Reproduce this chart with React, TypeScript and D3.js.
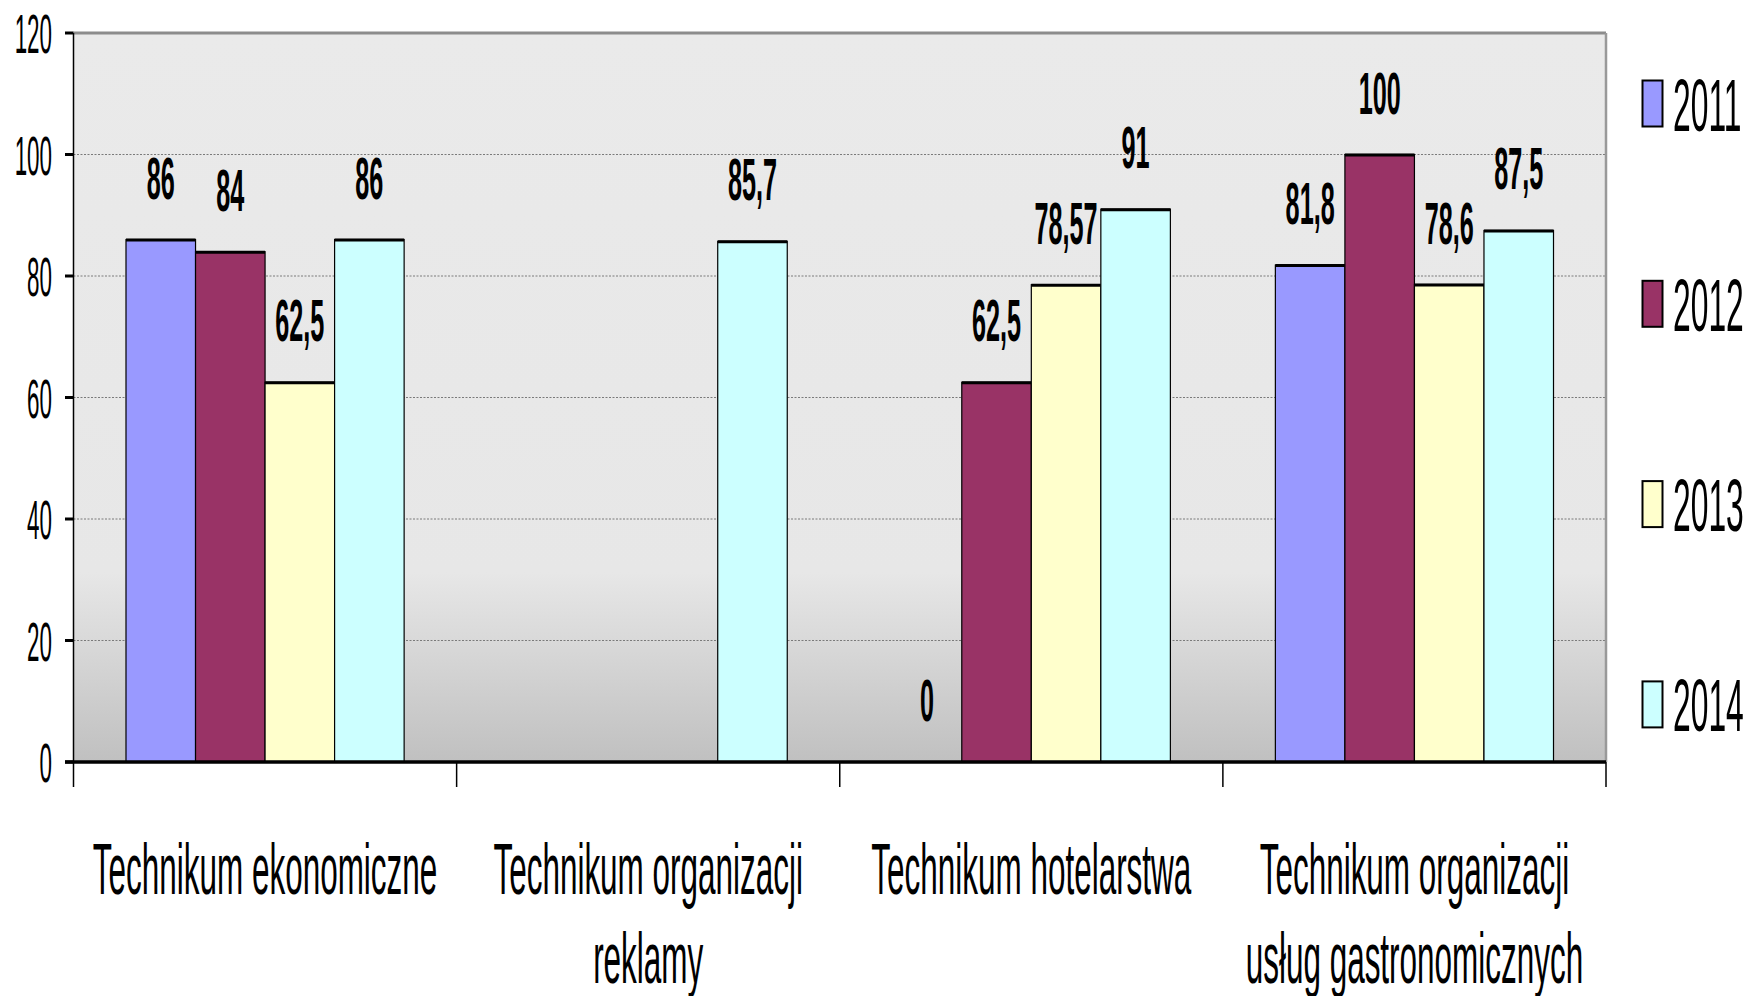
import React from "react";
import * as d3 from "d3";

const categories: string[][] = [
  ["Technikum ekonomiczne"],
  ["Technikum organizacji", "reklamy"],
  ["Technikum hotelarstwa"],
  ["Technikum organizacji", "usług gastronomicznych"],
];
const seriesNames = ["2011", "2012", "2013", "2014"];
const seriesColors = ["#9999ff", "#993366", "#ffffcc", "#ccffff"];
const v2011: (number | null)[] = [86, null, 0, 81.8];
const v2012: (number | null)[] = [84, null, 62.5, 100];
const v2013: (number | null)[] = [62.5, null, 78.57, 78.6];
const v2014: (number | null)[] = [86, 85.7, 91, 87.5];
const seriesValues = [v2011, v2012, v2013, v2014];
const yTicks = [0, 20, 40, 60, 80, 100, 120];

const W = 1752;
const H = 996;
const left = 73.5;
const right = 1606;
const top = 33;
const bottom = 762;

const fmt = (v: number) => String(v).replace(".", ",");

export default function App() {
  const x0 = d3
    .scaleBand<number>()
    .domain(categories.map((_, i) => i))
    .range([left, right])
    .padding(0);
  const x1 = d3
    .scaleBand<number>()
    .domain(seriesNames.map((_, i) => i))
    .range([0, x0.bandwidth()])
    .paddingInner(0)
    .paddingOuter(0.755);
  const y = d3.scaleLinear().domain([0, 120]).range([bottom, top]);

  const font = "'Liberation Sans', Arial, sans-serif";

  return (
    <svg
      width={W}
      height={H}
      style={{ position: "absolute", left: 0, top: 0, display: "block", background: "#fff" }}
    >
      <defs>
        <linearGradient id="bg" x1="0" y1="0" x2="0" y2="1">
          <stop offset="0" stopColor="#eaeaea" />
          <stop offset="0.74" stopColor="#e7e7e7" />
          <stop offset="1" stopColor="#c0c0c0" />
        </linearGradient>
      </defs>
      <rect x={left} y={top} width={right - left} height={bottom - top} fill="url(#bg)" />
      {yTicks
        .filter((t) => t > 0 && t < 120)
        .map((t) => (
          <line
            key={"g" + t}
            x1={left}
            x2={right}
            y1={y(t)}
            y2={y(t)}
            stroke="#7a7a7a"
            strokeWidth={1}
            strokeDasharray="2,1.5"
          />
        ))}
      <line x1={left} x2={right} y1={y(120)} y2={y(120)} stroke="#8c8c8c" strokeWidth={3} />
      <line x1={right} x2={right} y1={y(120)} y2={bottom} stroke="#999" strokeWidth={2.5} />

      {categories.map((_, ci) =>
        seriesValues.map((vals, si) => {
          const v = vals[ci];
          if (v === null || v === 0) return null;
          const bx = (x0(ci) as number) + (x1(si) as number);
          const bw = x1.bandwidth();
          return (
            <g key={`b${ci}-${si}`}>
              <rect
                x={bx}
                y={y(v)}
                width={bw}
                height={bottom - y(v)}
                fill={seriesColors[si]}
                stroke="#000"
                strokeWidth={1.2}
              />
              <line x1={bx} x2={bx + bw} y1={y(v) + 0.5} y2={y(v) + 0.5} stroke="#000" strokeWidth={3} />
            </g>
          );
        })
      )}

      {categories.map((_, ci) =>
        seriesValues.map((vals, si) => {
          const v = vals[ci];
          if (v === null) return null;
          const cx = (x0(ci) as number) + (x1(si) as number) + x1.bandwidth() / 2;
          return (
            <text
              key={`l${ci}-${si}`}
              transform={`translate(${cx},${y(v) - 41}) scale(0.42,1)`}
              textAnchor="middle"
              fontFamily={font}
              fontWeight="bold"
              fontSize={60}
              fill="#000"
            >
              {fmt(v)}
            </text>
          );
        })
      )}

      {/* axes */}
      <line x1={left} x2={left} y1={top} y2={bottom + 25} stroke="#000" strokeWidth={1.5} />
      {yTicks.map((t) => (
        <g key={"t" + t}>
          <line x1={65} x2={left} y1={y(t)} y2={y(t)} stroke="#000" strokeWidth={3} />
          <text
            transform={`translate(52,${y(t) + 20}) scale(0.4,1)`}
            textAnchor="end"
            fontFamily={font}
            fontSize={56}
            fill="#000"
          >
            {t}
          </text>
        </g>
      ))}
      <line x1={65} x2={right} y1={bottom} y2={bottom} stroke="#000" strokeWidth={3.5} />
      {categories.map((_, ci) => (
        <line
          key={"ct" + ci}
          x1={(x0(ci) as number) + x0.bandwidth()}
          x2={(x0(ci) as number) + x0.bandwidth()}
          y1={bottom}
          y2={bottom + 25}
          stroke="#000"
          strokeWidth={1.5}
        />
      ))}
      {categories.map((lines, ci) => (
        <g key={"cl" + ci}>
          {lines.map((ln, li) => (
            <text
              key={li}
              transform={`translate(${(x0(ci) as number) + x0.bandwidth() / 2},${894 + li * 89}) scale(0.437,1)`}
              textAnchor="middle"
              fontFamily={font}
              fontSize={72}
              fill="#000"
            >
              {ln}
            </text>
          ))}
        </g>
      ))}

      {/* legend */}
      {seriesNames.map((s, si) => {
        const cy = 103.5 + si * 200.3;
        return (
          <g key={"lg" + si}>
            <rect x={1642.5} y={cy - 23} width={20} height={46} fill={seriesColors[si]} stroke="#000" strokeWidth={2} />
            <text
              transform={`translate(1673,${cy + 27}) scale(0.43,1)`}
              fontFamily={font}
              fontSize={74}
              fill="#000"
            >
              {s}
            </text>
          </g>
        );
      })}
    </svg>
  );
}
